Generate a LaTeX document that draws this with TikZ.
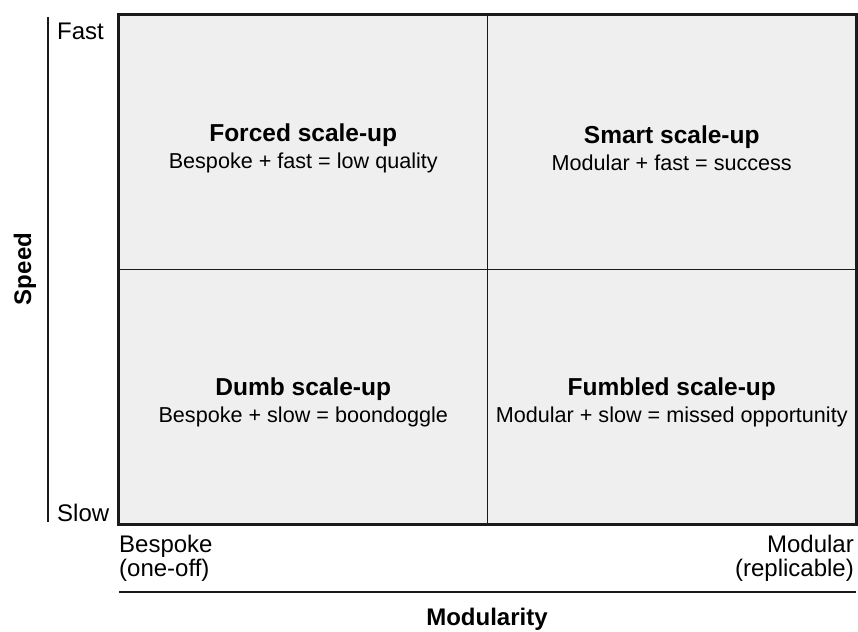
\documentclass[tikz,border=0pt]{standalone}
\usepackage{fontspec}
\setmainfont{Liberation Sans}
\usetikzlibrary{positioning}
\definecolor{quadgray}{HTML}{EFEFEF}
\definecolor{edgegray}{HTML}{1A1A1A}

\begin{document}
\begin{tikzpicture}[x=1pt, y=-1pt,
    quad/.style = {draw=edgegray, fill=quadgray, line width=1.6pt, minimum width=368.5pt, minimum height=254.5pt, inner sep=0pt},
    txt/.style = {inner sep=0pt, align=center, font=\fontsize{21.6}{27}\selectfont},
    lbl/.style = {inner sep=0pt, font=\fontsize{24}{26}\selectfont},
    axis/.style = {inner sep=0pt, font=\fontsize{24}{28}\selectfont\bfseries},
    axisline/.style = {-, draw=edgegray, line width=2pt}]
    \useasboundingbox (0,0) rectangle (858,631);
    % Nodes

    \node[quad] (tl) at (303.25, 142.25) {};
    \node[quad] (tr) at (671.75, 142.25) {};
    \node[quad] (bl) at (303.25, 396.75) {};
    \node[quad] (br) at (671.75, 396.75) {};
    \draw[axisline] (tl.north west) rectangle (br.south east);

    \node[txt] (tlt) at ([yshift=-6pt]tl.center) {{\fontsize{24.5}{27}\selectfont\bfseries Forced scale-up}\\ Bespoke + fast = low quality};
    \node[txt] (trt) at ([yshift=-6pt]tr.center) {{\fontsize{24.5}{27}\selectfont\bfseries Smart scale-up}\\ Modular + fast = success};
    \node[txt] (blt) at ([yshift=-6pt]bl.center) {{\fontsize{24.5}{27}\selectfont\bfseries Dumb scale-up}\\ Bespoke + slow = boondoggle};
    \node[txt] (brt) at ([yshift=-6pt]br.center) {{\fontsize{24.5}{27}\selectfont\bfseries Fumbled scale-up}\\ Modular + slow = missed opportunity};

    \node[lbl, anchor=base west] (fast) at (57, 40) {Fast};
    \node[lbl, anchor=base west] (slow) at (57, 521) {Slow};

    \node[lbl, anchor=base west] (bsp) at (119, 552) {Bespoke};
    \node[lbl, anchor=base west] (bsp2) at (119, 576) {(one-off)};
    \node[lbl, anchor=base east] (mod) at (854, 552) {Modular};
    \node[lbl, anchor=base east] (mod2) at (854, 576) {(replicable)};

    \node[axis, anchor=base] (modularity) at (487, 625) {Modularity};
    \node[axis, anchor=base, rotate=90] (speed) at (31, 269) {Speed};

    \coordinate (vtop) at (47.5, 17);
    \coordinate (vbot) at (47.5, 522);
    \coordinate (hleft) at (119, 592);
    \coordinate (hright) at (856, 592);

    % Edges

    \draw[axisline] (vtop) -- (vbot);
    \draw[axisline] (hleft) -- (hright);

\end{tikzpicture}
\end{document}
